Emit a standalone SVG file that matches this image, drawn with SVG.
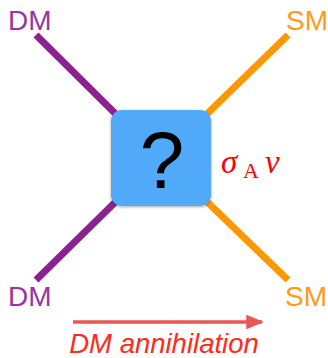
<svg xmlns="http://www.w3.org/2000/svg" width="328" height="358" viewBox="0 0 328 358">
<style>
.dm{stroke:#8B2290;stroke-width:7;fill:none}
.sm{stroke:#FF9800;stroke-width:7;fill:none}
.lbl{font-family:"Liberation Sans",Arial,sans-serif;font-size:28px}
.dmt{fill:#9B34A0}
.smt{fill:#FF9A1A}
</style>
<defs>
<filter id="sh" x="-20%" y="-20%" width="140%" height="140%">
<feDropShadow dx="0" dy="1" stdDeviation="1.5" flood-color="#000" flood-opacity="0.35"/>
</filter>
<marker id="ah" markerWidth="5" markerHeight="4.2" refX="4.5" refY="2.1" orient="auto" markerUnits="strokeWidth">
<path d="M0,0 L5,2.1 L0,4.2 Z" fill="#E85656"/>
</marker>
</defs>
<g id="connectors">
<line class="dm" x1="36" y1="35" x2="150" y2="148"/>
<line class="dm" x1="36" y1="280" x2="150" y2="168"/>
<line class="sm" x1="288" y1="35" x2="172" y2="148"/>
<line class="sm" x1="288" y1="280" x2="172" y2="168"/>
<line x1="73" y1="322" x2="262" y2="322" stroke="#E85656" stroke-width="3.5" marker-end="url(#ah)"/>
</g>
<g id="box">
<rect x="111" y="110" width="100" height="96" rx="11" ry="11" fill="#51A9F9" filter="url(#sh)"/>
<text x="162" y="188" text-anchor="middle" font-family="Liberation Sans,Arial,sans-serif" font-size="80" fill="#000">?</text>
</g>
<g id="dm-top"><text class="lbl dmt" x="8" y="30">DM</text></g>
<g id="dm-bottom"><text class="lbl dmt" x="8" y="306">DM</text></g>
<g id="sm-top"><text class="lbl smt" x="286" y="30">SM</text></g>
<g id="sm-bottom"><text class="lbl smt" x="285" y="306">SM</text></g>
<g id="sigma"><text font-family="Liberation Serif,Times New Roman,serif" fill="#FF0000" font-size="33"><tspan x="221" y="173" font-style="italic">σ</tspan><tspan x="243" y="178" font-size="22">A</tspan><tspan x="265" y="173" font-style="italic">v</tspan></text></g>
<g id="caption"><text x="164" y="353" text-anchor="middle" font-family="Liberation Sans,Arial,sans-serif" font-size="27.5" font-style="italic" fill="#FF2A1A">DM annihilation</text></g>
</svg>
